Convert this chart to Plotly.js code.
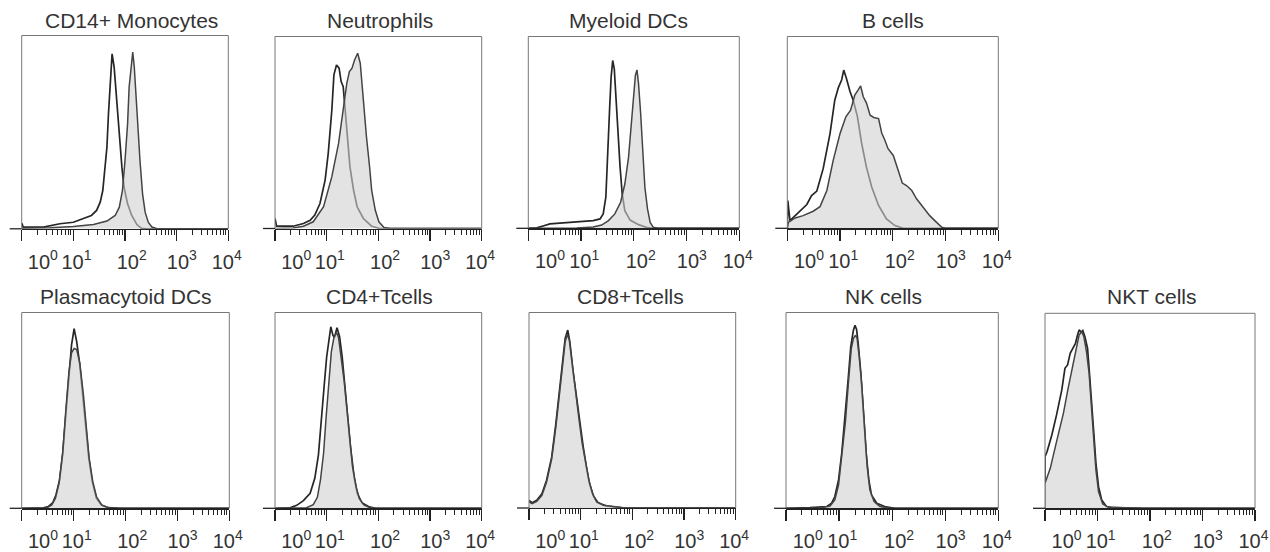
<!DOCTYPE html>
<html>
<head>
<meta charset="utf-8">
<script src="https://cdn.plot.ly/plotly-3.0.1.min.js"></script>
<style>html,body{margin:0;padding:0;background:#fff;}#chart{width:1270px;height:552px;}</style>
</head>
<body>
<div id="chart"></div>
<script>
// ---- data: x = log10 fluorescence (decades), y = relative cell count (% of panel height) ----
const panelTitles = ["CD14+ Monocytes","Neutrophils","Myeloid DCs","B cells","Plasmacytoid DCs","CD4+Tcells","CD8+Tcells","NK cells","NKT cells"];
const tickLabelText = ["10<sup>0</sup>","10<sup>1</sup>","10<sup>2</sup>","10<sup>3</sup>","10<sup>4</sup>"];
const tickLabelPos = [0.41, 1.06, 2.13, 3.1, 3.97];

const cd14IsoX = [0,0.03,0.42,0.74,1.00,1.19,1.35,1.45,1.52,1.57,1.61,1.65,1.68,1.72,1.75,1.79,1.84,1.88,1.94,1.98,2.05,2.13,2.23,2.32,2.42,4];
const cd14IsoY = [3,0.9,0.9,2.6,3.4,5.2,6.9,9.5,13.8,19.8,31.9,42.2,59.5,78.4,90.5,83.6,66.4,49.1,31.9,21.6,12.9,6.9,2.2,0.2,0,0];
const cd14StX = [0,0.55,1.0,1.39,1.65,1.81,1.89,1.95,2.0,2.05,2.08,2.12,2.15,2.18,2.21,2.25,2.29,2.34,2.39,2.45,2.52,2.61,2.81,4];
const cd14StY = [0.3,0.5,1.2,2.2,4.0,6.9,11.2,19.8,35.3,54.3,73.3,85.3,91.4,83.6,69.8,52.6,35.3,18.1,8.6,3.4,0.9,0.2,0,0];

const neuIsoX = [0,0.03,0.35,0.55,0.68,0.77,0.87,0.97,1.03,1.10,1.14,1.19,1.24,1.28,1.32,1.36,1.40,1.45,1.52,1.59,1.71,1.87,2.03,4];
const neuIsoY = [5.2,1.2,1.2,2.6,4.3,7.0,13.0,25.2,39.1,61.7,80.0,85.2,83.5,76.5,73.9,61.7,47.8,32.2,20.0,11.3,5.2,1.2,0,0];
const neuStX = [0,0.35,0.55,0.74,0.94,1.10,1.23,1.32,1.39,1.44,1.49,1.54,1.60,1.65,1.68,1.73,1.77,1.83,1.87,1.94,2.01,2.11,2.23,4];
const neuStY = [0,0.3,1.2,3.5,11.3,27.0,44.3,61.7,75.7,81.7,83.5,87.8,91.3,86.1,75.7,61.7,47.8,32.2,20.0,9.6,3.5,0.5,0,0];

const mdcIsoX = [0,0.16,0.28,0.41,0.66,0.92,1.23,1.36,1.42,1.47,1.50,1.54,1.57,1.60,1.63,1.66,1.70,1.74,1.78,1.83,1.93,2.09,2.24,2.37,4];
const mdcIsoY = [0,0.2,1.2,2.3,2.8,3.5,4.0,4.9,7.5,16.2,38.8,61.4,78.8,87.5,83.1,68.3,49.2,31.8,17.9,9.2,4.3,1.9,0.5,0,0];
const mdcStX = [0,0.92,1.23,1.39,1.52,1.64,1.75,1.83,1.90,1.95,1.99,2.03,2.06,2.09,2.13,2.17,2.21,2.26,2.31,2.37,2.46,4];
const mdcStY = [0,0.2,0.7,1.7,4.0,7.5,13.6,23.1,37.0,52.7,68.3,79.7,82.6,75.3,59.7,40.5,21.4,10.1,3.1,0.5,0,0];

const bIsoX = [0,0.01,0.05,0.24,0.37,0.46,0.56,0.68,0.81,0.90,0.97,1.03,1.07,1.12,1.19,1.25,1.33,1.41,1.50,1.60,1.73,1.88,2.04,2.20,4];
const bIsoY = [0,14.5,4.0,8.9,12.4,17.1,19.4,31.1,49.4,66.8,73.5,77.3,82.5,78.2,71.2,66.8,58.1,44.2,31.9,21.5,11.9,4.9,1.4,0,0];
const bStX = [0,0.02,0.15,0.30,0.49,0.62,0.75,0.87,1.00,1.11,1.20,1.28,1.35,1.39,1.44,1.50,1.57,1.64,1.73,1.79,1.85,1.91,2.01,2.10,2.18,2.26,2.36,2.45,2.58,2.70,2.83,2.93,2.99,4];
const bStY = [0,3.1,5.4,6.6,8.9,11.3,19.7,35.4,49.4,58.1,61.6,69.5,72.4,74.2,68.6,65.4,59.0,57.8,57.2,49.7,45.9,41.5,38.0,30.2,23.6,22.3,19.7,15.4,10.6,6.6,3.1,0.5,0,0];

const pdcIsoX = [0,0.42,0.51,0.60,0.66,0.73,0.79,0.85,0.91,0.96,1.01,1.06,1.12,1.17,1.23,1.29,1.36,1.44,1.54,1.67,1.89,4];
const pdcIsoY = [0,0.2,0.9,2.9,6.8,14.5,28.1,46.8,67.2,83.3,91.8,85.0,73.1,58.7,41.7,26.4,13.6,5.1,1.5,0.3,0,0];
const pdcStX = [0,0.48,0.58,0.65,0.72,0.79,0.85,0.91,0.96,1.01,1.06,1.12,1.19,1.25,1.30,1.37,1.44,1.54,1.67,1.89,4];
const pdcStY = [0,0.2,1.7,5.1,12.8,28.1,50.2,69.7,79.4,81.6,81.1,74.0,57.8,40.8,25.5,13.6,6.0,1.7,0.3,0,0];

const cd4IsoX = [0,0.29,0.42,0.55,0.68,0.77,0.84,0.90,0.95,1.00,1.05,1.08,1.12,1.15,1.20,1.25,1.30,1.35,1.41,1.46,1.53,1.59,1.68,1.81,1.94,4];
const cd4IsoY = [0,0.2,1.5,3.9,7.7,15.3,27.2,44.2,62.1,77.4,87.6,92.7,88.4,87.2,92.2,87.6,77.4,62.1,47.6,31.5,16.2,7.7,2.9,0.9,0,0];
const cd4StX = [0,0.61,0.74,0.82,0.88,0.94,0.99,1.04,1.09,1.14,1.19,1.23,1.28,1.34,1.39,1.44,1.50,1.57,1.63,1.72,1.84,1.97,4];
const cd4StY = [0,0.3,1.9,5.6,14.5,28.1,46.8,65.5,79.9,87.2,89.8,87.2,77.0,64.6,51.0,36.6,21.3,11.1,5.1,1.7,0.3,0,0];

const cd8IsoX = [0,0.06,0.15,0.25,0.34,0.44,0.52,0.59,0.65,0.70,0.75,0.79,0.85,0.92,0.98,1.05,1.11,1.17,1.25,1.34,1.50,1.66,1.86,4];
const cd8IsoY = [3.9,2.7,3.9,7.3,14.2,26.1,43.2,60.2,76.5,86.7,91.0,85.0,70.5,56.0,43.2,31.2,21.0,12.5,6.0,2.6,1.0,0.5,0,0];
const cd8StX = [0,0.06,0.15,0.25,0.34,0.44,0.52,0.59,0.65,0.70,0.74,0.78,0.84,0.90,0.97,1.03,1.10,1.16,1.23,1.31,1.44,1.66,1.86,4];
const cd8StY = [3.1,2.2,3.4,6.5,13.3,25.3,41.5,58.5,74.7,85.0,88.9,85.8,73.0,58.5,44.9,32.9,22.7,14.2,7.3,3.1,1.4,0.5,0,0];

const nkIsoX = [0,0.45,0.77,0.86,0.92,0.99,1.05,1.11,1.17,1.22,1.27,1.30,1.33,1.36,1.41,1.46,1.51,1.56,1.61,1.71,1.86,2.05,4];
const nkIsoY = [0,0.3,0.9,2.6,6.0,14.5,28.1,45.1,65.5,82.5,91.0,93.5,91.3,84.2,68.9,48.5,28.1,14.5,6.8,2.6,0.9,0,0];
const nkStX = [0,0.64,0.83,0.92,0.99,1.05,1.12,1.18,1.23,1.27,1.31,1.34,1.38,1.43,1.48,1.53,1.58,1.66,1.77,1.96,4];
const nkStY = [0,0.2,1.2,4.3,11.9,26.4,44.2,65.5,81.6,86.7,88.4,86.7,77.3,62.1,40.0,21.3,9.4,3.4,0.9,0,0];

const nktIsoX = [0,0,0.04,0.13,0.22,0.32,0.38,0.43,0.48,0.53,0.58,0.62,0.65,0.69,0.72,0.76,0.81,0.84,0.89,0.93,0.97,1.02,1.08,1.17,1.30,1.75,1.87,4];
const nktIsoY = [0,26.5,29.1,37.6,47.9,60.7,71.8,73.5,79.5,82.1,84.6,88.9,91.5,90.3,91.1,88.0,82.1,71.8,55.6,38.5,23.1,11.1,4.3,0.9,0.3,0.2,0,0];
const nktStX = [0,0.10,0.22,0.35,0.44,0.54,0.60,0.65,0.70,0.74,0.79,0.84,0.88,0.92,0.97,1.02,1.10,1.21,1.68,1.87,4];
const nktStY = [12.8,20.5,34.2,48.7,61.5,74.4,82.9,88.9,90.6,88.0,80.3,69.2,53.8,36.8,19.7,8.5,2.2,0.5,0.2,0,0];

const isoSeries = [[cd14IsoX,cd14IsoY],[neuIsoX,neuIsoY],[mdcIsoX,mdcIsoY],[bIsoX,bIsoY],[pdcIsoX,pdcIsoY],[cd4IsoX,cd4IsoY],[cd8IsoX,cd8IsoY],[nkIsoX,nkIsoY],[nktIsoX,nktIsoY]];
const stainSeries = [[cd14StX,cd14StY],[neuStX,neuStY],[mdcStX,mdcStY],[bStX,bStY],[pdcStX,pdcStY],[cd4StX,cd4StY],[cd8StX,cd8StY],[nkStX,nkStY],[nktStX,nktStY]];

// ---- layout geometry (pixels) ----
const W = 1270, H = 552;
const boxes = [
  {x0:21.7, x1:228.3, top:35.5, bot:228.8, tx:131, ty:20},
  {x0:275, x1:481.7, top:36.5, bot:228.5, tx:380, ty:20},
  {x0:528.3, x1:739.3, top:36.5, bot:228.3, tx:628, ty:20},
  {x0:787.3, x1:998.3, top:36.5, bot:228.3, tx:892.5, ty:20},
  {x0:21.7, x1:229.3, top:312.5, bot:508.3, tx:126, ty:296},
  {x0:275, x1:481.7, top:312.5, bot:508.3, tx:379, ty:296},
  {x0:529, x1:735.7, top:312.5, bot:508.0, tx:630, ty:296},
  {x0:786, x1:998.3, top:312.5, bot:508.3, tx:883, ty:296},
  {x0:1045, x1:1255, top:313.3, bot:508.3, tx:1151, ty:296}
];

const FONT = "'Liberation Sans', Arial, Helvetica, sans-serif";
const minorVals = [];
for (let d = 0; d < 4; d++) for (let k = 2; k <= 9; k++) minorVals.push(d + Math.log10(k));

const traces = [];
const layout = {
  width: W, height: H, margin: {l:0, r:0, t:0, b:0},
  paper_bgcolor: '#fff', plot_bgcolor: '#fff', showlegend: false,
  font: {family: FONT, color: '#333'},
  shapes: [], annotations: []
};

boxes.forEach((b, i) => {
  const n = i + 1;
  const xid = n === 1 ? 'x' : 'x' + n;
  const yid = n === 1 ? 'y' : 'y' + n;
  const xa = n === 1 ? 'xaxis' : 'xaxis' + n;
  const ya = n === 1 ? 'yaxis' : 'yaxis' + n;
  const lid = 'x' + (n + 9);
  layout[xa] = {
    domain: [b.x0 / W, b.x1 / W], range: [0, 4], anchor: yid,
    showline: true, linecolor: '#222', linewidth: 1.3,
    tickmode: 'array', tickvals: [0,1,2,3,4], ticks: 'outside', ticklen: 11, tickwidth: 1.3, tickcolor: '#222',
    showticklabels: false, showgrid: false, zeroline: false, fixedrange: true,
    minor: {tickmode: 'array', tickvals: minorVals, ticks: 'outside', ticklen: 5, tickwidth: 1, tickcolor: '#222', showgrid: false}
  };
  layout[ya] = {
    domain: [1 - b.bot / H, 1 - b.top / H], range: [0, 100], anchor: xid,
    showline: false, showticklabels: false, ticks: '', showgrid: false, zeroline: false, fixedrange: true
  };
  layout['xaxis' + (n + 9)] = {
    overlaying: xid, anchor: yid, range: [0, 4], side: 'bottom',
    tickmode: 'array', tickvals: tickLabelPos, ticktext: tickLabelText, tickangle: 0,
    ticks: 'outside', ticklen: 15, tickcolor: 'rgba(0,0,0,0)',
    showline: false, showgrid: false, zeroline: false, fixedrange: true,
    tickfont: {family: FONT, size: 20, color: '#333'}
  };
  traces.push({x: isoSeries[i][0], y: isoSeries[i][1], xaxis: xid, yaxis: yid, type: 'scatter', mode: 'lines',
    line: {color: '#262626', width: 1.7}, hoverinfo: 'skip'});
  traces.push({x: stainSeries[i][0], y: stainSeries[i][1], xaxis: xid, yaxis: yid, type: 'scatter', mode: 'lines',
    fill: 'tozeroy', fillcolor: 'rgba(208,208,208,0.6)', line: {color: '#444', width: 1.5}, hoverinfo: 'skip'});
  traces.push({x: [], y: [], xaxis: lid, yaxis: yid, type: 'scatter', mode: 'lines', hoverinfo: 'skip'});

  const fr = {color: '#777', width: 1};
  layout.shapes.push({type:'line', xref: xid + ' domain', yref: yid + ' domain', x0:0, x1:0, y0:0, y1:1, line: fr});
  layout.shapes.push({type:'line', xref: xid + ' domain', yref: yid + ' domain', x0:0, x1:1, y0:1, y1:1, line: fr});
  layout.shapes.push({type:'line', xref: xid + ' domain', yref: yid + ' domain', x0:1, x1:1, y0:0, y1:1, line: fr});
  layout.shapes.push({type:'line', xref: xid + ' domain', yref: yid + ' domain', x0: -12 / (b.x1 - b.x0), x1:0, y0:0, y1:0,
    line: {color: '#222', width: 1.3}});

  layout.annotations.push({text: panelTitles[i], xref: 'paper', yref: 'paper', x: b.tx / W, y: 1 - b.ty / H,
    xanchor: 'center', yanchor: 'middle', showarrow: false, font: {family: FONT, size: 21, color: '#333'}});
});

Plotly.newPlot('chart', traces, layout, {staticPlot: true, displayModeBar: false});
</script>
</body>
</html>
